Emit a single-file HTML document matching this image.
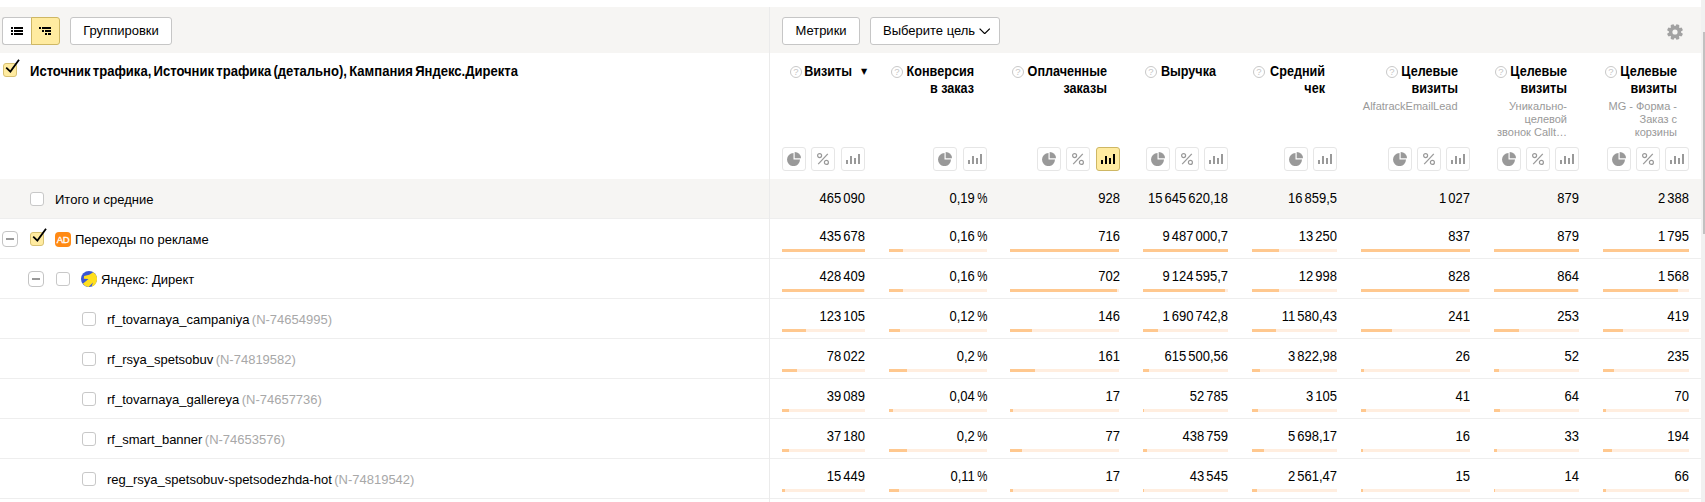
<!DOCTYPE html>
<html lang="ru"><head><meta charset="utf-8"><title>Отчёт</title>
<style>
html,body{margin:0;padding:0}
body{width:1705px;height:502px;position:relative;overflow:hidden;background:#fff;font-family:"Liberation Sans",Arial,sans-serif;font-size:13px;color:#000}
.abs,.abs *{box-sizing:border-box}
div,span,svg{position:absolute}
.band{left:0;top:7px;width:1701px;height:46px;background:#f6f5f3}
.vline{left:769px;top:7px;width:1px;height:495px;background:#ebebeb}
.sbt{left:1701px;top:0;width:4px;height:502px;background:#f1f1f1}
.sbh{left:1703px;top:32px;width:2px;height:202px;background:#c1c1c1}
.btn{box-sizing:border-box;height:28px;top:17px;border:1px solid #c6c6c6;border-radius:3px;background:#fff;line-height:26px;text-align:center;color:#000;white-space:nowrap}
.hl{height:1px;left:0;width:1701px;background:#eee}
.tot{left:0;top:179px;width:1701px;height:39px;background:#f6f5f3}
.cb{box-sizing:border-box;width:14px;height:14px;border:1px solid #c8c8c8;border-radius:3px;background:#fff}
.cb.on{background:#ffeba0;border-color:#d8c172}
.mn{box-sizing:border-box;width:16px;height:16px;border:1px solid #c4c4c4;border-radius:4px;background:#fff}
.mn i{position:absolute;left:3px;top:6px;width:8px;height:2px;background:#999}
.nm{white-space:nowrap;line-height:16px;height:16px}
.nm span{position:static;color:#a8a8a8;margin-left:-1.2px}
.pc{position:static;display:inline-block;transform:scaleX(.88);transform-origin:100% 50%;margin-left:-1.5px}
.v{white-space:nowrap;text-align:right;line-height:16px;height:16px;font-size:14px;word-spacing:-1.7px;transform:scaleX(.929);transform-origin:100% 50%}
.bb{height:3px;background:#ffeee0}
.bf{height:3px;background:#ffc88f;left:0;top:0}
.ht{font-weight:bold;font-size:14px;line-height:17px;text-align:right;white-space:nowrap;transform:scaleX(.9);transform-origin:100% 50%}
.sa{font-size:8px;font-family:'DejaVu Sans',sans-serif;line-height:8px;letter-spacing:0}
.hs{font-size:11px;line-height:13px;color:#999;text-align:right;white-space:nowrap}
.ib{box-sizing:border-box;width:24px;height:24px;top:147px;border:1px solid #e6e6e6;border-radius:3px;background:#fff}
.ib.on{background:#ffeba0;border-color:#ceb764}
.hd{font-weight:bold;font-size:14px;word-spacing:-1.5px;transform:scaleX(.9327);transform-origin:0 50%;line-height:17px;white-space:nowrap;left:30px;top:63px}
</style></head><body>

<div class="band"></div>
<div class="tot"></div>
<div class="hl" style="top:218px"></div>
<div class="hl" style="top:258px"></div>
<div class="hl" style="top:298px"></div>
<div class="hl" style="top:338px"></div>
<div class="hl" style="top:378px"></div>
<div class="hl" style="top:418px"></div>
<div class="hl" style="top:458px"></div>
<div class="hl" style="top:498px"></div>
<div class="vline"></div>
<div class="sbt"></div><div class="sbh"></div>
<div class="btn" style="left:2px;width:30px;border-radius:3px 0 0 3px;border-right:0"><svg style="left:8px;top:9px" width="12" height="8" viewBox="0 0 12 8"><path d="M0 0h2v2h-2zM3 0h9v2h-9zM0 3h2v2h-2zM3 3h9v2h-9zM0 6h2v2h-2zM3 6h9v2h-9z" fill="#000"/></svg></div>
<div class="btn" style="left:31px;width:29px;border-radius:0 3px 3px 0;background:#ffeba0;border-color:#ceb764"><svg style="left:7px;top:9px" width="12" height="8" viewBox="0 0 12 8"><path d="M0 0h2v2h-2zM3 0h9v2h-9zM3 3h2v2h-2zM6 3h6v2h-6zM6 6h2v2h-2zM9 6h3v2h-3z" fill="#000"/></svg></div>
<div class="btn" style="left:70px;width:102px">Группировки</div>
<div class="btn" style="left:782px;width:78px">Метрики</div>
<div class="btn" style="left:870px;width:130px;text-align:left;padding-left:12px">Выберите цель<svg style="left:107.5px;top:9.6px" width="11.4" height="6.6" viewBox="0 0 12 7"><path d="M0.6 0.6L6 6L11.4 0.6" fill="none" stroke="#000" stroke-width="1.3"/></svg></div>
<svg style="left:1667px;top:24px" width="16" height="16" viewBox="0 0 16 16"><g fill="#a2a2a2" transform="rotate(22.5 8 8)"><circle cx="8" cy="8" r="6.1"/><rect x="6.2" y="0" width="3.6" height="16" rx="1.2" transform="rotate(0 8 8)"/><rect x="6.2" y="0" width="3.6" height="16" rx="1.2" transform="rotate(45 8 8)"/><rect x="6.2" y="0" width="3.6" height="16" rx="1.2" transform="rotate(90 8 8)"/><rect x="6.2" y="0" width="3.6" height="16" rx="1.2" transform="rotate(135 8 8)"/></g><circle cx="8" cy="8" r="2.6" fill="#f6f5f3"/></svg>
<div class="cb on" style="left:3px;top:63px"></div><svg style="left:3px;top:59px" width="18" height="18" viewBox="0 0 18 18"><path d="M3.2 8.6L7.4 12.6L16 0.8" fill="none" stroke="#000" stroke-width="1.8"/></svg>
<div class="hd">Источник трафика, Источник трафика (детально), Кампания Яндекс.Директа</div>
<div class="ht" style="left:712.4px;width:140px;top:63px">Визиты</div>
<svg style="left:790px;top:66px" width="12" height="12" viewBox="0 0 12 12"><circle cx="6" cy="6" r="5.5" fill="#fff" stroke="#c8c8c8"/><text x="6" y="9.4" font-size="9.5" text-anchor="middle" fill="#c6c6c6" font-family="Liberation Sans, sans-serif">?</text></svg>
<div class="sa" style="left:861px;top:68px">▼</div>
<div class="ib" style="left:782.3px"><span style="left:4px;top:4px;width:14px;height:14px"><svg style="left:0;top:0" width="14" height="14" viewBox="0 0 14 14"><path d="M6.5 1.1A6.5 6.5 0 1 0 13 7.6H6.5z" fill="#999"/><path d="M7.7 0A6.3 6.3 0 0 1 14 6.3H7.7z" fill="#999"/></svg></span></div>
<div class="ib" style="left:811.45px"><svg style="left:5px;top:5px" width="12" height="12" viewBox="0 0 12 12" fill="none" stroke="#999" stroke-width="1.2"><circle cx="2.6" cy="2.6" r="2"/><circle cx="9.4" cy="9.4" r="2"/><path d="M10.8 0.8L1.2 11.2"/></svg></div>
<div class="ib" style="left:840.6px"><svg style="left:4px;top:6px" width="14" height="10" viewBox="0 0 14 10" fill="#999"><rect x="0" y="6" width="2" height="4"/><rect x="4" y="2" width="2" height="8"/><rect x="8" y="4" width="2" height="6"/><rect x="12" y="0" width="2" height="10"/></svg></div>
<div class="ht" style="left:834.4px;width:140px;top:63px">Конверсия</div>
<div class="ht" style="left:834.4px;width:140px;top:80px">в заказ</div>
<svg style="left:891px;top:66px" width="12" height="12" viewBox="0 0 12 12"><circle cx="6" cy="6" r="5.5" fill="#fff" stroke="#c8c8c8"/><text x="6" y="9.4" font-size="9.5" text-anchor="middle" fill="#c6c6c6" font-family="Liberation Sans, sans-serif">?</text></svg>
<div class="ib" style="left:933.35px"><span style="left:4px;top:4px;width:14px;height:14px"><svg style="left:0;top:0" width="14" height="14" viewBox="0 0 14 14"><path d="M6.5 1.1A6.5 6.5 0 1 0 13 7.6H6.5z" fill="#999"/><path d="M7.7 0A6.3 6.3 0 0 1 14 6.3H7.7z" fill="#999"/></svg></span></div>
<div class="ib" style="left:962.5px"><svg style="left:4px;top:6px" width="14" height="10" viewBox="0 0 14 10" fill="#999"><rect x="0" y="6" width="2" height="4"/><rect x="4" y="2" width="2" height="8"/><rect x="8" y="4" width="2" height="6"/><rect x="12" y="0" width="2" height="10"/></svg></div>
<div class="ht" style="left:967.4px;width:140px;top:63px">Оплаченные</div>
<div class="ht" style="left:967.4px;width:140px;top:80px">заказы</div>
<svg style="left:1012px;top:66px" width="12" height="12" viewBox="0 0 12 12"><circle cx="6" cy="6" r="5.5" fill="#fff" stroke="#c8c8c8"/><text x="6" y="9.4" font-size="9.5" text-anchor="middle" fill="#c6c6c6" font-family="Liberation Sans, sans-serif">?</text></svg>
<div class="ib" style="left:1037.2px"><span style="left:4px;top:4px;width:14px;height:14px"><svg style="left:0;top:0" width="14" height="14" viewBox="0 0 14 14"><path d="M6.5 1.1A6.5 6.5 0 1 0 13 7.6H6.5z" fill="#999"/><path d="M7.7 0A6.3 6.3 0 0 1 14 6.3H7.7z" fill="#999"/></svg></span></div>
<div class="ib" style="left:1066.35px"><svg style="left:5px;top:5px" width="12" height="12" viewBox="0 0 12 12" fill="none" stroke="#999" stroke-width="1.2"><circle cx="2.6" cy="2.6" r="2"/><circle cx="9.4" cy="9.4" r="2"/><path d="M10.8 0.8L1.2 11.2"/></svg></div>
<div class="ib on" style="left:1095.5px"><svg style="left:4px;top:6px" width="14" height="10" viewBox="0 0 14 10" fill="#000"><rect x="0" y="6" width="2" height="4"/><rect x="4" y="2" width="2" height="8"/><rect x="8" y="4" width="2" height="6"/><rect x="12" y="0" width="2" height="10"/></svg></div>
<div class="ht" style="left:1075.5px;width:140px;top:63px">Выручка</div>
<svg style="left:1145px;top:66px" width="12" height="12" viewBox="0 0 12 12"><circle cx="6" cy="6" r="5.5" fill="#fff" stroke="#c8c8c8"/><text x="6" y="9.4" font-size="9.5" text-anchor="middle" fill="#c6c6c6" font-family="Liberation Sans, sans-serif">?</text></svg>
<div class="ib" style="left:1145.7px"><span style="left:4px;top:4px;width:14px;height:14px"><svg style="left:0;top:0" width="14" height="14" viewBox="0 0 14 14"><path d="M6.5 1.1A6.5 6.5 0 1 0 13 7.6H6.5z" fill="#999"/><path d="M7.7 0A6.3 6.3 0 0 1 14 6.3H7.7z" fill="#999"/></svg></span></div>
<div class="ib" style="left:1174.85px"><svg style="left:5px;top:5px" width="12" height="12" viewBox="0 0 12 12" fill="none" stroke="#999" stroke-width="1.2"><circle cx="2.6" cy="2.6" r="2"/><circle cx="9.4" cy="9.4" r="2"/><path d="M10.8 0.8L1.2 11.2"/></svg></div>
<div class="ib" style="left:1204px"><svg style="left:4px;top:6px" width="14" height="10" viewBox="0 0 14 10" fill="#999"><rect x="0" y="6" width="2" height="4"/><rect x="4" y="2" width="2" height="8"/><rect x="8" y="4" width="2" height="6"/><rect x="12" y="0" width="2" height="10"/></svg></div>
<div class="ht" style="left:1184.9px;width:140px;top:63px">Средний</div>
<div class="ht" style="left:1184.9px;width:140px;top:80px">чек</div>
<svg style="left:1253px;top:66px" width="12" height="12" viewBox="0 0 12 12"><circle cx="6" cy="6" r="5.5" fill="#fff" stroke="#c8c8c8"/><text x="6" y="9.4" font-size="9.5" text-anchor="middle" fill="#c6c6c6" font-family="Liberation Sans, sans-serif">?</text></svg>
<div class="ib" style="left:1283.85px"><span style="left:4px;top:4px;width:14px;height:14px"><svg style="left:0;top:0" width="14" height="14" viewBox="0 0 14 14"><path d="M6.5 1.1A6.5 6.5 0 1 0 13 7.6H6.5z" fill="#999"/><path d="M7.7 0A6.3 6.3 0 0 1 14 6.3H7.7z" fill="#999"/></svg></span></div>
<div class="ib" style="left:1313px"><svg style="left:4px;top:6px" width="14" height="10" viewBox="0 0 14 10" fill="#999"><rect x="0" y="6" width="2" height="4"/><rect x="4" y="2" width="2" height="8"/><rect x="8" y="4" width="2" height="6"/><rect x="12" y="0" width="2" height="10"/></svg></div>
<div class="ht" style="left:1317.6px;width:140px;top:63px">Целевые</div>
<div class="ht" style="left:1317.6px;width:140px;top:80px">визиты</div>
<svg style="left:1386px;top:66px" width="12" height="12" viewBox="0 0 12 12"><circle cx="6" cy="6" r="5.5" fill="#fff" stroke="#c8c8c8"/><text x="6" y="9.4" font-size="9.5" text-anchor="middle" fill="#c6c6c6" font-family="Liberation Sans, sans-serif">?</text></svg>
<div class="hs" style="left:1317.6px;width:140px;top:100px">AlfatrackEmailLead</div>
<div class="ib" style="left:1387.7px"><span style="left:4px;top:4px;width:14px;height:14px"><svg style="left:0;top:0" width="14" height="14" viewBox="0 0 14 14"><path d="M6.5 1.1A6.5 6.5 0 1 0 13 7.6H6.5z" fill="#999"/><path d="M7.7 0A6.3 6.3 0 0 1 14 6.3H7.7z" fill="#999"/></svg></span></div>
<div class="ib" style="left:1416.85px"><svg style="left:5px;top:5px" width="12" height="12" viewBox="0 0 12 12" fill="none" stroke="#999" stroke-width="1.2"><circle cx="2.6" cy="2.6" r="2"/><circle cx="9.4" cy="9.4" r="2"/><path d="M10.8 0.8L1.2 11.2"/></svg></div>
<div class="ib" style="left:1446px"><svg style="left:4px;top:6px" width="14" height="10" viewBox="0 0 14 10" fill="#999"><rect x="0" y="6" width="2" height="4"/><rect x="4" y="2" width="2" height="8"/><rect x="8" y="4" width="2" height="6"/><rect x="12" y="0" width="2" height="10"/></svg></div>
<div class="ht" style="left:1427px;width:140px;top:63px">Целевые</div>
<div class="ht" style="left:1427px;width:140px;top:80px">визиты</div>
<svg style="left:1495px;top:66px" width="12" height="12" viewBox="0 0 12 12"><circle cx="6" cy="6" r="5.5" fill="#fff" stroke="#c8c8c8"/><text x="6" y="9.4" font-size="9.5" text-anchor="middle" fill="#c6c6c6" font-family="Liberation Sans, sans-serif">?</text></svg>
<div class="hs" style="left:1427px;width:140px;top:100px">Уникально-</div>
<div class="hs" style="left:1427px;width:140px;top:113px">целевой</div>
<div class="hs" style="left:1427px;width:140px;top:126px">звонок Callt…</div>
<div class="ib" style="left:1496.7px"><span style="left:4px;top:4px;width:14px;height:14px"><svg style="left:0;top:0" width="14" height="14" viewBox="0 0 14 14"><path d="M6.5 1.1A6.5 6.5 0 1 0 13 7.6H6.5z" fill="#999"/><path d="M7.7 0A6.3 6.3 0 0 1 14 6.3H7.7z" fill="#999"/></svg></span></div>
<div class="ib" style="left:1525.85px"><svg style="left:5px;top:5px" width="12" height="12" viewBox="0 0 12 12" fill="none" stroke="#999" stroke-width="1.2"><circle cx="2.6" cy="2.6" r="2"/><circle cx="9.4" cy="9.4" r="2"/><path d="M10.8 0.8L1.2 11.2"/></svg></div>
<div class="ib" style="left:1555px"><svg style="left:4px;top:6px" width="14" height="10" viewBox="0 0 14 10" fill="#999"><rect x="0" y="6" width="2" height="4"/><rect x="4" y="2" width="2" height="8"/><rect x="8" y="4" width="2" height="6"/><rect x="12" y="0" width="2" height="10"/></svg></div>
<div class="ht" style="left:1537px;width:140px;top:63px">Целевые</div>
<div class="ht" style="left:1537px;width:140px;top:80px">визиты</div>
<svg style="left:1605px;top:66px" width="12" height="12" viewBox="0 0 12 12"><circle cx="6" cy="6" r="5.5" fill="#fff" stroke="#c8c8c8"/><text x="6" y="9.4" font-size="9.5" text-anchor="middle" fill="#c6c6c6" font-family="Liberation Sans, sans-serif">?</text></svg>
<div class="hs" style="left:1537px;width:140px;top:100px">MG - Форма -</div>
<div class="hs" style="left:1537px;width:140px;top:113px">Заказ с</div>
<div class="hs" style="left:1537px;width:140px;top:126px">корзины</div>
<div class="ib" style="left:1606.9px"><span style="left:4px;top:4px;width:14px;height:14px"><svg style="left:0;top:0" width="14" height="14" viewBox="0 0 14 14"><path d="M6.5 1.1A6.5 6.5 0 1 0 13 7.6H6.5z" fill="#999"/><path d="M7.7 0A6.3 6.3 0 0 1 14 6.3H7.7z" fill="#999"/></svg></span></div>
<div class="ib" style="left:1636.05px"><svg style="left:5px;top:5px" width="12" height="12" viewBox="0 0 12 12" fill="none" stroke="#999" stroke-width="1.2"><circle cx="2.6" cy="2.6" r="2"/><circle cx="9.4" cy="9.4" r="2"/><path d="M10.8 0.8L1.2 11.2"/></svg></div>
<div class="ib" style="left:1665.2px"><svg style="left:4px;top:6px" width="14" height="10" viewBox="0 0 14 10" fill="#999"><rect x="0" y="6" width="2" height="4"/><rect x="4" y="2" width="2" height="8"/><rect x="8" y="4" width="2" height="6"/><rect x="12" y="0" width="2" height="10"/></svg></div>
<div class="cb" style="left:30px;top:192px"></div>
<div class="nm" style="left:55px;top:192px">Итого и средние</div>
<div class="v" style="left:745px;width:120px;top:189.6px">465 090</div>
<div class="v" style="left:867px;width:120px;top:189.6px">0,19 <span class="pc">%</span></div>
<div class="v" style="left:999.5px;width:120px;top:189.6px">928</div>
<div class="v" style="left:1108px;width:120px;top:189.6px">15 645 620,18</div>
<div class="v" style="left:1217px;width:120px;top:189.6px">16 859,5</div>
<div class="v" style="left:1350px;width:120px;top:189.6px">1 027</div>
<div class="v" style="left:1459px;width:120px;top:189.6px">879</div>
<div class="v" style="left:1569.2px;width:120px;top:189.6px">2 388</div>
<div class="mn" style="left:2px;top:231px"><i></i></div>
<div class="cb on" style="left:30px;top:232px"></div><svg style="left:30px;top:228px" width="18" height="18" viewBox="0 0 18 18"><path d="M3.2 8.6L7.4 12.6L16 0.8" fill="none" stroke="#000" stroke-width="1.8"/></svg>
<div style="left:55px;top:232px;width:16px;height:15px;border-radius:4px;background:#ff8a14;color:#fff;font-size:9.5px;-webkit-text-stroke:0.3px #fff;line-height:15px;text-align:center;letter-spacing:-0.3px">AD</div>
<div class="nm" style="left:75px;top:232px">Переходы по рекламе</div>
<div class="v" style="left:745px;width:120px;top:227.6px">435 678</div>
<div class="bb" style="left:782px;top:249px;width:83px"><div class="bf" style="width:83.0px"></div></div>
<div class="v" style="left:867px;width:120px;top:227.6px">0,16 <span class="pc">%</span></div>
<div class="bb" style="left:889px;top:249px;width:98px"><div class="bf" style="width:14.3px"></div></div>
<div class="v" style="left:999.5px;width:120px;top:227.6px">716</div>
<div class="bb" style="left:1010px;top:249px;width:109px"><div class="bf" style="width:109.0px"></div></div>
<div class="v" style="left:1108px;width:120px;top:227.6px">9 487 000,7</div>
<div class="bb" style="left:1143px;top:249px;width:85px"><div class="bf" style="width:85.0px"></div></div>
<div class="v" style="left:1217px;width:120px;top:227.6px">13 250</div>
<div class="bb" style="left:1252px;top:249px;width:85px"><div class="bf" style="width:27.0px"></div></div>
<div class="v" style="left:1350px;width:120px;top:227.6px">837</div>
<div class="bb" style="left:1361px;top:249px;width:109px"><div class="bf" style="width:109.0px"></div></div>
<div class="v" style="left:1459px;width:120px;top:227.6px">879</div>
<div class="bb" style="left:1494px;top:249px;width:85px"><div class="bf" style="width:85.0px"></div></div>
<div class="v" style="left:1569.2px;width:120px;top:227.6px">1 795</div>
<div class="bb" style="left:1603px;top:249px;width:86px"><div class="bf" style="width:86.0px"></div></div>
<div class="mn" style="left:28px;top:271px"><i></i></div>
<div class="cb" style="left:56px;top:272px"></div>
<svg style="left:81px;top:271px" width="16" height="16" viewBox="0 0 16 16"><circle cx="8" cy="8" r="8" fill="#3a56d4"/><path d="M12.2 1.2A8 8 0 0 1 10.6 15.6L12 11.6L7.6 16A8 8 0 0 1 1.8 12.8L7.5 8L2.8 7.8L3.1 4.9L8.2 3.8z" fill="#ffdf1e"/></svg>
<div class="nm" style="left:101px;top:272px">Яндекс: Директ</div>
<div class="v" style="left:745px;width:120px;top:267.6px">428 409</div>
<div class="bb" style="left:782px;top:289px;width:83px"><div class="bf" style="width:81.6px"></div></div>
<div class="v" style="left:867px;width:120px;top:267.6px">0,16 <span class="pc">%</span></div>
<div class="bb" style="left:889px;top:289px;width:98px"><div class="bf" style="width:14.3px"></div></div>
<div class="v" style="left:999.5px;width:120px;top:267.6px">702</div>
<div class="bb" style="left:1010px;top:289px;width:109px"><div class="bf" style="width:106.9px"></div></div>
<div class="v" style="left:1108px;width:120px;top:267.6px">9 124 595,7</div>
<div class="bb" style="left:1143px;top:289px;width:85px"><div class="bf" style="width:81.8px"></div></div>
<div class="v" style="left:1217px;width:120px;top:267.6px">12 998</div>
<div class="bb" style="left:1252px;top:289px;width:85px"><div class="bf" style="width:26.5px"></div></div>
<div class="v" style="left:1350px;width:120px;top:267.6px">828</div>
<div class="bb" style="left:1361px;top:289px;width:109px"><div class="bf" style="width:107.8px"></div></div>
<div class="v" style="left:1459px;width:120px;top:267.6px">864</div>
<div class="bb" style="left:1494px;top:289px;width:85px"><div class="bf" style="width:83.5px"></div></div>
<div class="v" style="left:1569.2px;width:120px;top:267.6px">1 568</div>
<div class="bb" style="left:1603px;top:289px;width:86px"><div class="bf" style="width:75.1px"></div></div>
<div class="cb" style="left:82px;top:312px"></div>
<div class="nm" style="left:107px;top:312px">rf_tovarnaya_campaniya <span>(N-74654995)</span></div>
<div class="v" style="left:745px;width:120px;top:307.6px">123 105</div>
<div class="bb" style="left:782px;top:329px;width:83px"><div class="bf" style="width:23.5px"></div></div>
<div class="v" style="left:867px;width:120px;top:307.6px">0,12 <span class="pc">%</span></div>
<div class="bb" style="left:889px;top:329px;width:98px"><div class="bf" style="width:10.7px"></div></div>
<div class="v" style="left:999.5px;width:120px;top:307.6px">146</div>
<div class="bb" style="left:1010px;top:329px;width:109px"><div class="bf" style="width:22.2px"></div></div>
<div class="v" style="left:1108px;width:120px;top:307.6px">1 690 742,8</div>
<div class="bb" style="left:1143px;top:329px;width:85px"><div class="bf" style="width:15.1px"></div></div>
<div class="v" style="left:1217px;width:120px;top:307.6px">11 580,43</div>
<div class="bb" style="left:1252px;top:329px;width:85px"><div class="bf" style="width:23.6px"></div></div>
<div class="v" style="left:1350px;width:120px;top:307.6px">241</div>
<div class="bb" style="left:1361px;top:329px;width:109px"><div class="bf" style="width:31.4px"></div></div>
<div class="v" style="left:1459px;width:120px;top:307.6px">253</div>
<div class="bb" style="left:1494px;top:329px;width:85px"><div class="bf" style="width:24.5px"></div></div>
<div class="v" style="left:1569.2px;width:120px;top:307.6px">419</div>
<div class="bb" style="left:1603px;top:329px;width:86px"><div class="bf" style="width:20.1px"></div></div>
<div class="cb" style="left:82px;top:352px"></div>
<div class="nm" style="left:107px;top:352px">rf_rsya_spetsobuv <span>(N-74819582)</span></div>
<div class="v" style="left:745px;width:120px;top:347.6px">78 022</div>
<div class="bb" style="left:782px;top:369px;width:83px"><div class="bf" style="width:14.9px"></div></div>
<div class="v" style="left:867px;width:120px;top:347.6px">0,2 <span class="pc">%</span></div>
<div class="bb" style="left:889px;top:369px;width:98px"><div class="bf" style="width:17.8px"></div></div>
<div class="v" style="left:999.5px;width:120px;top:347.6px">161</div>
<div class="bb" style="left:1010px;top:369px;width:109px"><div class="bf" style="width:24.5px"></div></div>
<div class="v" style="left:1108px;width:120px;top:347.6px">615 500,56</div>
<div class="bb" style="left:1143px;top:369px;width:85px"><div class="bf" style="width:5.5px"></div></div>
<div class="v" style="left:1217px;width:120px;top:347.6px">3 822,98</div>
<div class="bb" style="left:1252px;top:369px;width:85px"><div class="bf" style="width:7.8px"></div></div>
<div class="v" style="left:1350px;width:120px;top:347.6px">26</div>
<div class="bb" style="left:1361px;top:369px;width:109px"><div class="bf" style="width:3.4px"></div></div>
<div class="v" style="left:1459px;width:120px;top:347.6px">52</div>
<div class="bb" style="left:1494px;top:369px;width:85px"><div class="bf" style="width:5.0px"></div></div>
<div class="v" style="left:1569.2px;width:120px;top:347.6px">235</div>
<div class="bb" style="left:1603px;top:369px;width:86px"><div class="bf" style="width:11.3px"></div></div>
<div class="cb" style="left:82px;top:392px"></div>
<div class="nm" style="left:107px;top:392px">rf_tovarnaya_gallereya <span>(N-74657736)</span></div>
<div class="v" style="left:745px;width:120px;top:387.6px">39 089</div>
<div class="bb" style="left:782px;top:409px;width:83px"><div class="bf" style="width:7.4px"></div></div>
<div class="v" style="left:867px;width:120px;top:387.6px">0,04 <span class="pc">%</span></div>
<div class="bb" style="left:889px;top:409px;width:98px"><div class="bf" style="width:3.6px"></div></div>
<div class="v" style="left:999.5px;width:120px;top:387.6px">17</div>
<div class="bb" style="left:1010px;top:409px;width:109px"><div class="bf" style="width:2.6px"></div></div>
<div class="v" style="left:1108px;width:120px;top:387.6px">52 785</div>
<div class="bb" style="left:1143px;top:409px;width:85px"><div class="bf" style="width:0.5px"></div></div>
<div class="v" style="left:1217px;width:120px;top:387.6px">3 105</div>
<div class="bb" style="left:1252px;top:409px;width:85px"><div class="bf" style="width:6.3px"></div></div>
<div class="v" style="left:1350px;width:120px;top:387.6px">41</div>
<div class="bb" style="left:1361px;top:409px;width:109px"><div class="bf" style="width:5.3px"></div></div>
<div class="v" style="left:1459px;width:120px;top:387.6px">64</div>
<div class="bb" style="left:1494px;top:409px;width:85px"><div class="bf" style="width:6.2px"></div></div>
<div class="v" style="left:1569.2px;width:120px;top:387.6px">70</div>
<div class="bb" style="left:1603px;top:409px;width:86px"><div class="bf" style="width:3.4px"></div></div>
<div class="cb" style="left:82px;top:432px"></div>
<div class="nm" style="left:107px;top:432px">rf_smart_banner <span>(N-74653576)</span></div>
<div class="v" style="left:745px;width:120px;top:427.6px">37 180</div>
<div class="bb" style="left:782px;top:449px;width:83px"><div class="bf" style="width:7.1px"></div></div>
<div class="v" style="left:867px;width:120px;top:427.6px">0,2 <span class="pc">%</span></div>
<div class="bb" style="left:889px;top:449px;width:98px"><div class="bf" style="width:17.8px"></div></div>
<div class="v" style="left:999.5px;width:120px;top:427.6px">77</div>
<div class="bb" style="left:1010px;top:449px;width:109px"><div class="bf" style="width:11.7px"></div></div>
<div class="v" style="left:1108px;width:120px;top:427.6px">438 759</div>
<div class="bb" style="left:1143px;top:449px;width:85px"><div class="bf" style="width:3.9px"></div></div>
<div class="v" style="left:1217px;width:120px;top:427.6px">5 698,17</div>
<div class="bb" style="left:1252px;top:449px;width:85px"><div class="bf" style="width:11.6px"></div></div>
<div class="v" style="left:1350px;width:120px;top:427.6px">16</div>
<div class="bb" style="left:1361px;top:449px;width:109px"><div class="bf" style="width:2.1px"></div></div>
<div class="v" style="left:1459px;width:120px;top:427.6px">33</div>
<div class="bb" style="left:1494px;top:449px;width:85px"><div class="bf" style="width:3.2px"></div></div>
<div class="v" style="left:1569.2px;width:120px;top:427.6px">194</div>
<div class="bb" style="left:1603px;top:449px;width:86px"><div class="bf" style="width:9.3px"></div></div>
<div class="cb" style="left:82px;top:472px"></div>
<div class="nm" style="left:107px;top:472px">reg_rsya_spetsobuv-spetsodezhda-hot <span>(N-74819542)</span></div>
<div class="v" style="left:745px;width:120px;top:467.6px">15 449</div>
<div class="bb" style="left:782px;top:489px;width:83px"><div class="bf" style="width:2.9px"></div></div>
<div class="v" style="left:867px;width:120px;top:467.6px">0,11 <span class="pc">%</span></div>
<div class="bb" style="left:889px;top:489px;width:98px"><div class="bf" style="width:9.8px"></div></div>
<div class="v" style="left:999.5px;width:120px;top:467.6px">17</div>
<div class="bb" style="left:1010px;top:489px;width:109px"><div class="bf" style="width:2.6px"></div></div>
<div class="v" style="left:1108px;width:120px;top:467.6px">43 545</div>
<div class="bb" style="left:1143px;top:489px;width:85px"><div class="bf" style="width:0.4px"></div></div>
<div class="v" style="left:1217px;width:120px;top:467.6px">2 561,47</div>
<div class="bb" style="left:1252px;top:489px;width:85px"><div class="bf" style="width:5.2px"></div></div>
<div class="v" style="left:1350px;width:120px;top:467.6px">15</div>
<div class="bb" style="left:1361px;top:489px;width:109px"><div class="bf" style="width:2.0px"></div></div>
<div class="v" style="left:1459px;width:120px;top:467.6px">14</div>
<div class="bb" style="left:1494px;top:489px;width:85px"><div class="bf" style="width:1.4px"></div></div>
<div class="v" style="left:1569.2px;width:120px;top:467.6px">66</div>
<div class="bb" style="left:1603px;top:489px;width:86px"><div class="bf" style="width:3.2px"></div></div>
</body></html>
